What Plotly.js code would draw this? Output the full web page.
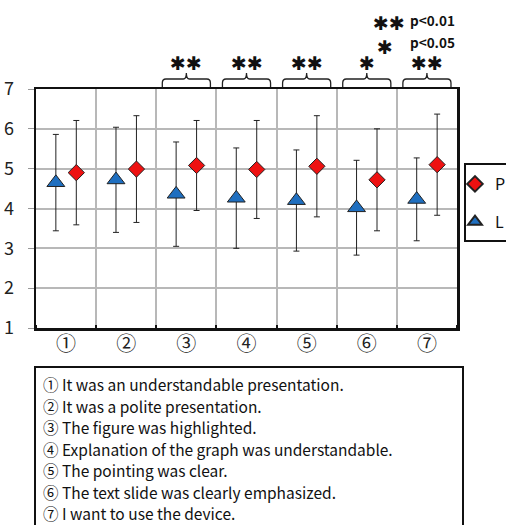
<!DOCTYPE html>
<html>
<head>
<meta charset="utf-8">
<script src="https://cdn.plot.ly/plotly-3.0.1.min.js"></script>
<style>html,body{margin:0;padding:0;background:#fff}#chart{width:506px;height:525px}</style>
</head>
<body>
<div id="chart"></div>
<script>
// ---- data ----
var categories = ['①','②','③','④','⑤','⑥','⑦'];
var P_mean = [4.90, 4.99, 5.08, 4.98, 5.06, 4.72, 5.10];
var P_err  = [1.31, 1.34, 1.13, 1.23, 1.27, 1.28, 1.27];
var L_mean = [4.65, 4.72, 4.36, 4.26, 4.20, 4.02, 4.23];
var L_err  = [1.21, 1.32, 1.31, 1.26, 1.27, 1.19, 1.04];
var significance = ['', '', '**', '**', '**', '*', '**'];
var itemTexts = [
  '① It was an understandable presentation.',
  '② It was a polite presentation.',
  '③ The figure was highlighted.',
  '④ Explanation of the graph was understandable.',
  '⑤ The pointing was clear.',
  '⑥ The text slide was clearly emphasized.',
  '⑦ I want to use the device.'
];
var sigLegend = [['**', 'p<0.01'], ['*', 'p<0.05']];

// ---- build ----
var FONT = '"Noto Sans CJK JP", "Noto Sans", sans-serif';
var STAR_FONT = '"DejaVu Sans", sans-serif';
var idx = categories.map(function(_, i){ return i + 1; });
var W = 506, H = 525, ML = 36, MR = 49, MT = 89, MB = 197;
var PW = W - ML - MR, PH = H - MT - MB;
function px2x(px){ return (px - ML) / PW; }
function px2y(py){ return (H - MB - py) / PH; }
function cat2paper(c){ return (c - 0.5) / categories.length; }
function stars(s){ return s.replace(/\*/g, '✱'); }

var traceP = {
  type: 'scatter', mode: 'markers', name: 'P', legendgroup: 'P',
  x: idx.map(function(i){ return i + 0.17; }), y: P_mean,
  error_y: {type: 'data', array: P_err, visible: true, color: '#222', thickness: 1, width: 3},
  marker: {symbol: 'diamond', size: 12.5, color: '#ee1111', line: {color: '#222', width: 1}}
};
var traceL = {
  type: 'scatter', mode: 'markers', name: 'L', legendgroup: 'L',
  x: idx.map(function(i){ return i - 0.17; }), y: L_mean,
  error_y: {type: 'data', array: L_err, visible: true, color: '#222', thickness: 1, width: 3},
  marker: {symbol: 'triangle-up', size: 15.5, color: '#1f6fc0', line: {color: '#222', width: 1}}
};

var shapes = [], annotations = [];
var yEnd = px2y(87), yH = px2y(79), yPk = px2y(73);
significance.forEach(function(s, i){
  if (!s) return;
  var c = i + 1;
  var xl = cat2paper(c - 0.4), xr = cat2paper(c + 0.4), xc = cat2paper(c);
  var e = cat2paper(c - 0.34) - xl, f = cat2paper(c - 0.05) - cat2paper(c - 0.1);
  var ym = yH - (yH - yEnd) * 0.5;
  var p = 'M' + xl + ',' + yEnd + ' L' + xl + ',' + ym +
          ' Q' + xl + ',' + yH + ' ' + (xl + e) + ',' + yH +
          ' L' + (xc - f) + ',' + yH + ' Q' + xc + ',' + yH + ' ' + xc + ',' + yPk +
          ' Q' + xc + ',' + yH + ' ' + (xc + f) + ',' + yH +
          ' L' + (xr - e) + ',' + yH + ' Q' + xr + ',' + yH + ' ' + xr + ',' + ym +
          ' L' + xr + ',' + yEnd;
  shapes.push({type: 'path', xref: 'paper', yref: 'paper', path: p, line: {color: '#222', width: 1.3}, layer: 'above'});
  annotations.push({xref: 'paper', yref: 'paper', x: xc, y: px2y(63), text: stars(s),
    showarrow: false, xanchor: 'center', yanchor: 'middle', font: {family: STAR_FONT, size: 19, color: '#111'}});
});

// significance legend
var sigY = [23, 47];
var sigX = [[407, 'right'], [385, 'center']];
var pY = [20, 42];
sigLegend.forEach(function(r, i){
  annotations.push({xref: 'paper', yref: 'paper', x: px2x(sigX[i][0]), y: px2y(sigY[i]), text: stars(r[0]),
    showarrow: false, xanchor: sigX[i][1], yanchor: 'middle', font: {family: STAR_FONT, size: 19, color: '#111'}});
  annotations.push({xref: 'paper', yref: 'paper', x: px2x(408), y: px2y(pY[i]), text: r[1],
    showarrow: false, xanchor: 'left', yanchor: 'middle', font: {family: FONT, size: 13.5, color: '#111', weight: 'bold'}});
});

// legend frame
shapes.push({type: 'rect', xref: 'paper', yref: 'paper', x0: px2x(465), x1: px2x(520), y0: px2y(241), y1: px2y(164),
  line: {color: '#111', width: 2}, fillcolor: 'rgba(0,0,0,0)'});

// bottom description box
shapes.push({type: 'rect', xref: 'paper', yref: 'paper', x0: px2x(35), x1: px2x(463), y0: px2y(367), y1: px2y(540),
  line: {color: '#111', width: 2}, fillcolor: 'rgba(0,0,0,0)'});
itemTexts.forEach(function(t, i){
  annotations.push({xref: 'paper', yref: 'paper', x: px2x(41), y: px2y(384 + i * 21.5), text: t,
    showarrow: false, xanchor: 'left', yanchor: 'middle', font: {family: FONT, size: 15.5, color: '#111'}});
});

var layout = {
  width: W, height: H,
  margin: {l: ML, r: MR, t: MT, b: MB, pad: 0, autoexpand: false},
  paper_bgcolor: '#fff', plot_bgcolor: '#fff',
  font: {family: FONT, color: '#222'},
  showlegend: true,
  legend: {x: px2x(455), y: px2y(167), xanchor: 'left', yanchor: 'top', borderwidth: 0,
    font: {family: FONT, size: 16, color: '#111'}, traceorder: 'grouped', tracegroupgap: 14,
    bgcolor: 'rgba(0,0,0,0)', itemsizing: 'constant'},
  xaxis: {
    range: [0.5, 7.5], tickmode: 'array', tickvals: idx, ticktext: categories,
    showgrid: false, zeroline: false, ticks: '', ticklabelstandoff: -4,
    tickfont: {family: FONT, size: 20, color: '#222'},
    showline: true, linecolor: '#111', linewidth: 2.5, mirror: true, fixedrange: true,
    minor: {tickmode: 'linear', tick0: 0.5, dtick: 1, showgrid: true, gridcolor: '#b8b8b8', gridwidth: 2,
      ticks: 'inside', ticklen: 3, tickcolor: '#111', tickwidth: 2}
  },
  yaxis: {
    range: [1, 7], dtick: 1, tick0: 1, showgrid: true, gridcolor: '#b8b8b8', gridwidth: 2, zeroline: false,
    ticks: 'outside', ticklen: 6, tickcolor: '#999', tickwidth: 1, ticklabelstandoff: 10,
    tickfont: {family: FONT, size: 18, color: '#222'},
    showline: true, linecolor: '#111', linewidth: 2.5, mirror: true, fixedrange: true
  },
  shapes: shapes,
  annotations: annotations
};

Plotly.newPlot('chart', [traceP, traceL], layout, {displayModeBar: false, staticPlot: true});
</script>
</body>
</html>
